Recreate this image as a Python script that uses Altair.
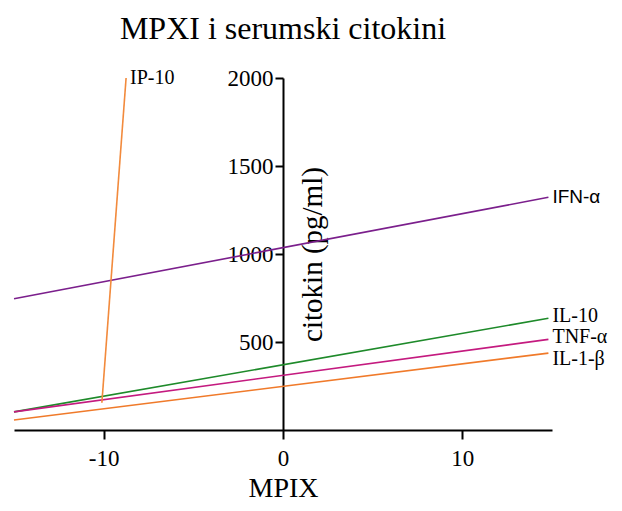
import altair as alt
import pandas as pd

# ---- data ----
series = ["IFN-α", "IL-10", "TNF-α", "IL-1-β", "IP-10"]
x_start = [-15, -15, -15, -15, -10.1]
x_end = [14.8, 14.8, 14.8, 14.8, -8.75]
y_start = [746, 103, 103, 57, 155]
y_end = [1322, 635, 515, 437, 2000]
colors = ["#7b1f8c", "#1e8a2a", "#c41a7f", "#f07a2a", "#f28a3c"]

label_text = ["IFN-α", "IL-10", "TNF-α", "IL-1-β", "IP-10"]
label_x = [14.8, 14.8, 14.8, 14.8, -8.75]
label_y = [1322, 650, 528, 405, 2000]
label_font = ["Liberation Sans", "Liberation Serif", "Liberation Serif", "Liberation Serif", "Liberation Serif"]

x_ticks = [-10, 0, 10]
y_ticks = [500, 1000, 1500, 2000]

rows = []
for s, x0, x1, y0, y1 in zip(series, x_start, x_end, y_start, y_end):
    rows.append({"series": s, "x": x0, "y": y0, "o": 0})
    rows.append({"series": s, "x": x1, "y": y1, "o": 1})
lines_df = pd.DataFrame(rows)
labels_df = pd.DataFrame({"label": label_text, "x": label_x, "y": label_y, "font": label_font})

W, H = 538, 352

xscale = alt.Scale(domain=[-15, 15], nice=False, zero=False)
yscale = alt.Scale(domain=[0, 2000], nice=False)
cscale = alt.Scale(domain=series, range=colors)

lines = alt.Chart(lines_df).mark_line(strokeWidth=1.6, clip=False).encode(
    x=alt.X("x:Q", scale=xscale, axis=alt.Axis(
        title="MPIX", values=x_ticks, grid=False, domainColor="black", domainWidth=2,
        tickColor="black", tickWidth=2, tickSize=9, labelFont="Liberation Serif",
        labelExpr="'' + datum.value",
        labelFontSize=23, labelColor="black", labelPadding=8, titleFont="Liberation Serif",
        titleFontSize=28, titleFontWeight="normal", titleColor="black", titlePadding=4)),
    y=alt.Y("y:Q", scale=yscale, axis=alt.Axis(
        title="citokin (pg/ml)", values=y_ticks, grid=False, offset=-269,
        labelExpr="'' + datum.value",
        domainColor="black", domainWidth=2, tickColor="black", tickWidth=2, tickSize=8,
        labelFont="Liberation Serif", labelFontSize=23, labelColor="black", labelPadding=2,
        titleFont="Liberation Serif", titleFontSize=29, titleFontWeight="normal",
        titleColor="black", titleAngle=270, titleX=29, titleY=176,
        titleBaseline="middle", titleAlign="center")),
    color=alt.Color("series:N", scale=cscale, legend=None),
    order="o:Q",
    detail="series:N",
)

serif_labels = alt.Chart(labels_df).transform_filter(
    alt.datum.font == "Liberation Serif").mark_text(
    align="left", baseline="middle", dx=4, font="Liberation Serif", fontSize=20,
    color="black").encode(x=alt.X("x:Q", scale=xscale), y=alt.Y("y:Q", scale=yscale),
                          text="label:N")

sans_labels = alt.Chart(labels_df).transform_filter(
    alt.datum.font == "Liberation Sans").mark_text(
    align="left", baseline="middle", dx=4, font="Liberation Sans", fontSize=19,
    color="black").encode(x=alt.X("x:Q", scale=xscale), y=alt.Y("y:Q", scale=yscale),
                          text="label:N")

chart = alt.layer(lines, serif_labels, sans_labels).properties(
    width=W, height=H,
    title=alt.TitleParams("MPXI i serumski citokini", font="Liberation Serif", fontSize=32,
                          fontWeight="normal", color="black", anchor="middle", offset=21),
    autosize=alt.AutoSizeParams(type="none"),
    padding={"left": 6, "top": 70, "right": 62, "bottom": 73},
).configure(background="white").configure_view(strokeWidth=0)

chart.save("out.html", embed_options={"renderer": "svg", "actions": False})
